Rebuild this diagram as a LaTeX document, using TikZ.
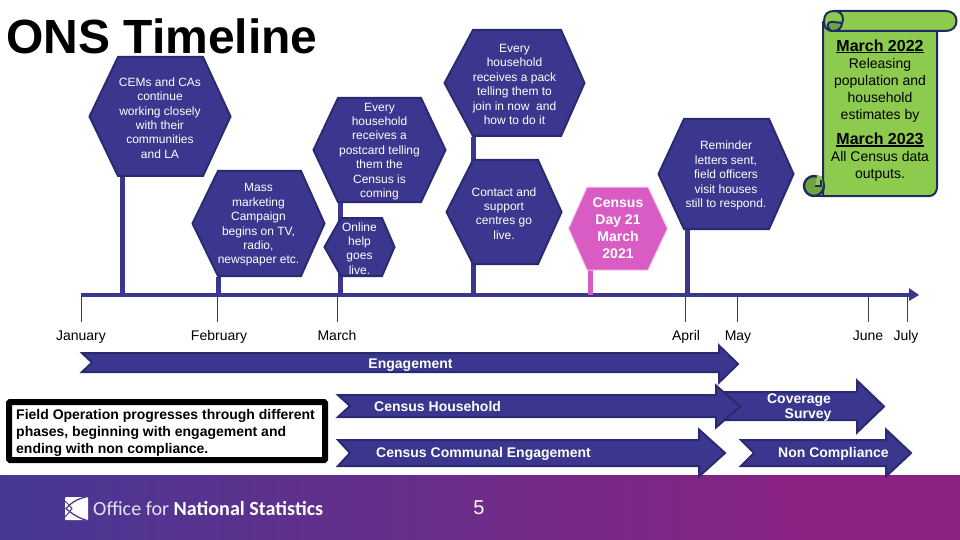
\documentclass[tikz,border=0pt]{standalone}
\usepackage{fontspec}
\setmainfont{Liberation Sans}
\newfontfamily\logofont{Carlito}
\usetikzlibrary{calc}
\definecolor{hexfill}{HTML}{3B368E}
\definecolor{hexline}{HTML}{2A2A70}
\definecolor{pinkfill}{HTML}{D85CC4}
\definecolor{pinkline}{HTML}{F3C8EC}
\definecolor{scrollfill}{HTML}{8DCB4E}
\definecolor{scrollfold}{HTML}{6FA33E}
\definecolor{scrollline}{HTML}{1F2A60}
\definecolor{footA}{HTML}{3A3C96}
\definecolor{footB}{HTML}{8C2282}
\tikzset{
  hexshape/.style={fill=hexfill,draw=hexline,line width=2pt,line join=miter},
  pinkshape/.style={fill=pinkfill,draw=pinkline,line width=1pt,line join=miter},
  hextext/.style={text=white,align=center,font=\fontsize{12}{14.4}\selectfont,inner sep=0pt,rectangle,yshift=-1.5pt},
  pinktext/.style={text=white,align=center,font=\fontsize{14}{17}\selectfont\bfseries,inner sep=0pt,rectangle},
  stem/.style={draw=hexfill,line width=5pt},
  pinkstem/.style={draw=pinkfill,line width=5pt},
  axisline/.style={draw=hexfill,line width=4pt},
  tick/.style={draw=black!75,line width=0.6pt},
  monthtext/.style={text=black,font=\fontsize{14}{17}\selectfont,inner sep=0pt,anchor=base},
  arrowshape/.style={fill=hexfill,draw=hexline,line width=2pt,line join=miter},
  arrowtext/.style={text=white,font=\fontsize{14}{15}\selectfont\bfseries,inner sep=0pt,align=center},
  scrollshape/.style={fill=scrollfill,draw=scrollline,line width=2pt,line join=round},
  scrolltext/.style={text=black,align=center,font=\fontsize{14}{17}\selectfont,inner sep=0pt},
}
% \hexa{path style}{xl}{xt1}{xt2}{xr}{yt}{yb}{node style}{text}
\newcommand{\hexa}[9]{%
  \draw[#1] (#3,#6+1) -- (#4,#6+1) -- (#5-1.5,{(#6+#7)/2}) -- (#4,#7-1) -- (#3,#7-1) -- (#2+1.5,{(#6+#7)/2}) -- cycle;
  \node[#8] at ({(#2+#5)/2},{(#6+#7)/2}) {#9};
}
% \arrowbox{xstart}{xnotch}{xhead}{xtip}{yshafttop}{yshaftbottom}{yheadtop}{yheadbottom}
\newcommand{\arrowbox}[8]{%
  \draw[arrowshape] (#1+2,#5+1) -- (#3,#5+1) -- (#3,#7+2.5) -- (#4-2,{(#7+#8)/2}) -- (#3,#8-2.5) -- (#3,#6-1) -- (#1+2,#6-1) -- (#2,{(#5+#6)/2}) -- cycle;
}
\newcommand{\heavyul}[1]{\setbox0\hbox{#1}\rlap{\rule[-2.4pt]{\wd0}{1.6pt}}\box0}
\begin{document}
\begin{tikzpicture}[x=1pt,y=-1pt]
\useasboundingbox (0,0) rectangle (960,540);
% footer
\begin{scope}
  \clip (0,475) rectangle (960,540);
  \fill[footB] (0,475) rectangle (960,540);
  \fill[footA] (-300,300) rectangle (0,800);
  \shade[left color=footA,right color=footB,rotate around={18:(400,507)}] (-60,200) rectangle (760,800);
\end{scope}
% title
\node[anchor=west,inner sep=0pt,font=\fontsize{48}{48}\selectfont\bfseries,text=black] (title) at (6,36) {ONS Timeline};
% timeline
\coordinate (axisL) at (81,295);
\coordinate (axisR) at (919,295);
\draw[axisline] (axisL) -- (910,295);
\fill[hexfill] (909,288) -- (axisR) -- (909,301) -- cycle;
% ticks and months
\foreach \tx/\lab/\lx in {81/January/81,217/February/219,337/March/337,685/April/686,737/May/738,868/June/868,907/July/906}{
  \coordinate (t\lab) at (\tx,297);
  \coordinate (b\lab) at (\tx,322);
  \draw[tick] (t\lab) -- (b\lab);
  \node[monthtext] (m\lab) at (\lx,340) {\lab};
}
% stems
\coordinate (a1) at (122,295); \coordinate (a2) at (218,295); \coordinate (a3) at (340,295);
\coordinate (a4) at (473,295); \coordinate (a5) at (590,295); \coordinate (a6) at (687,295);
\coordinate (c1) at (122,177); \coordinate (c2) at (218,277); \coordinate (c3) at (340,203);
\coordinate (c4) at (473,137); \coordinate (c5) at (590,270); \coordinate (c6) at (687,230);
\draw[stem] (c1) -- (a1);
\draw[stem] (c2) -- (a2);
\draw[stem] (c3) -- (a3);
\draw[stem] (c4) -- (a4);
\draw[pinkstem] (c5) -- (a5);
\draw[stem] (c6) -- (a6);
% hexagons
\hexa{hexshape}{88}{118}{203}{232}{56}{177}{hextext}{CEMs and CAs\\continue\\working closely\\with their\\communities\\and LA}
\hexa{hexshape}{191}{218}{301}{326}{170}{277}{hextext}{Mass\\marketing\\Campaign\\begins on TV,\\radio,\\newspaper etc.}
\hexa{hexshape}{312}{338}{421}{447}{97}{203}{hextext}{Every\\household\\receives a\\postcard telling\\them the\\Census is\\coming}
\hexa{hexshape}{323}{341}{382}{396}{217}{277}{hextext}{Online\\help\\goes\\live.}
\hexa{hexshape}{443}{473}{561}{586}{29}{137}{hextext}{Every\\household\\receives a pack\\telling them to\\join in now~~and\\how to do it}
\hexa{hexshape}{445}{473}{538}{563}{159}{265}{hextext}{Contact and\\support\\centres go\\live.}
\hexa{pinkshape}{567}{587}{648}{669}{186}{271}{pinktext}{Census\\Day 21\\March\\2021}
\hexa{hexshape}{657}{684}{769}{795}{118}{230}{hextext}{Reminder\\letters sent,\\field officers\\visit houses\\still to respond.}
% scroll
\draw[scrollshape] (823,22) -- (823,196) -- (929,196) .. controls (934,196) and (937,192) .. (937,187) -- (937,31) -- (833,31) -- cycle;
\draw[scrollshape] (834,11) -- (946,11) .. controls (960,11) and (960,31) .. (946,31) -- (834,31) .. controls (825,31) and (824,26) .. (824,21) .. controls (824,14) and (828,11) .. (834,11) -- cycle;
\draw[scrollshape,fill=scrollfold] (828,27) .. controls (827,23) and (830,21) .. (834,22) -- (842,23) .. controls (842,28) and (838,31) .. (833,31) .. controls (830,31) and (829,30) .. (828,27) -- cycle;
\draw[scrollline,line width=2pt] (834,11) .. controls (840,11) and (843,14) .. (843,20) -- (842,23);
\draw[scrollline,line width=2.4pt,fill=scrollfold] (814,186) circle (10);
\fill[scrollfill] (815,186) -- (822.5,186) -- (822.5,176) -- (817,176) -- cycle;
\draw[scrollline,line width=1.6pt] (815,186) -- (821,186) -- (821,180);
\draw[scrollline,line width=2pt] (814,196) -- (826,196);
\draw[scrollline,line width=2pt] (823,170) -- (823,180);
% scroll text
\node[scrolltext] (scroll1) at (880,77.5) {\raisebox{0pt}[18pt][3pt]{\fontsize{16}{18}\selectfont\bfseries\heavyul{March 2022}}\\Releasing\\population and\\household\\estimates by};
\node[scrolltext] (scroll2) at (880,154.5) {\raisebox{0pt}[17pt][2pt]{\fontsize{16}{18}\selectfont\bfseries\heavyul{March 2023}}\\All Census data\\outputs.};
% arrows
\arrowbox{720}{740}{857}{886}{391}{421}{378}{435}
\arrowbox{80}{92}{719}{740}{352}{373}{343}{385}
\arrowbox{336}{350}{716}{742}{394}{418}{383}{430}
\arrowbox{336}{350}{699}{727}{439}{467}{427}{479}
\arrowbox{739}{754}{886}{913}{439}{467}{427}{479}
\node[arrowtext] (engage) at (410.5,365.5) {Engagement};
\node[arrowtext,anchor=west] (house) at (374,406.5) {Census Household};
\node[arrowtext,anchor=west] (comm) at (376,454) {Census Communal Engagement};
\node[arrowtext] (cover) at (799,407.5) {Coverage\\\hspace*{18pt}Survey};
\node[arrowtext,anchor=west] (non) at (778,454) {Non Compliance};
% black box
\node[draw=black,line width=6pt,fill=white,rounded corners=1pt,minimum width=316pt,minimum height=58pt,inner sep=0pt] (fieldbox) at (167,431) {};
\node[anchor=west,align=left,inner sep=0pt,font=\fontsize{14}{17}\selectfont\bfseries] (fieldtext) at (16,433) {Field Operation progresses through different\\phases, beginning with engagement and\\ending with non compliance.};
% logo
\fill[white,rounded corners=1pt] (65,497) rectangle (88,520);
\draw[footA!70!footB,line width=1.3pt] (86,497) .. controls (76,499) and (70,504) .. (66,508.5) .. controls (71,513) and (78,518) .. (86,520);
\draw[footA!70!footB,line width=1pt] (65,501) .. controls (69,505) and (71,507) .. (72,508.5) .. controls (70,511) and (68,514) .. (65,517);
\node[anchor=west,inner sep=0pt,text=white,font=\logofont\fontsize{20.1}{24}\selectfont] (logo) at (93,509) {\textcolor{white!85!footA}{Office for} \textbf{National Statistics}};
\node[inner sep=0pt,text=white,font=\fontsize{20}{20}\selectfont] (page) at (479,508) {5};
\end{tikzpicture}
\end{document}
